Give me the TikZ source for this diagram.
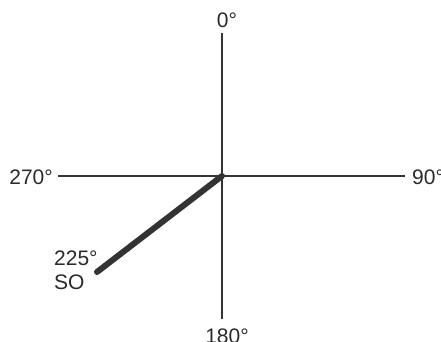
\documentclass[tikz,border=0pt]{standalone}
\usepackage{fontspec}
\setmainfont{Liberation Sans}
\definecolor{linegray}{HTML}{333333}
\definecolor{textgray}{HTML}{2A2A2A}
\begin{document}
\begin{tikzpicture}[x=1pt, y=-1pt,
    axis/.style={draw=linegray, line width=1.8pt},
    heading/.style={draw=linegray, line width=6pt, line cap=round},
    lbl/.style={text=textgray, font=\fontsize{21}{24}\selectfont, inner sep=0pt}]
    \useasboundingbox (0,0) rectangle (441,342);
    % Achsen
    \coordinate (O) at (222,176);
    \coordinate (N) at (222,33);
    \coordinate (S) at (222,319);
    \coordinate (W) at (58,176);
    \coordinate (E) at (405,176);
    \draw[axis] (N) -- (S);
    \draw[axis] (W) -- (E);
    % Richtung
    \coordinate (SO) at (97,272);
    \draw[heading] (O) -- (SO);
    % Beschriftung
    \node[lbl] (l0) at (227,20) {0°};
    \node[lbl, anchor=west] (l90) at (412,177) {90°};
    \node[lbl] (l180) at (227,336) {180°};
    \node[lbl, anchor=east] (l270) at (53,177) {270°};
    \node[lbl, anchor=north west, align=left] (lSO) at (54,251) {225°\\SO};
\end{tikzpicture}
\end{document}
